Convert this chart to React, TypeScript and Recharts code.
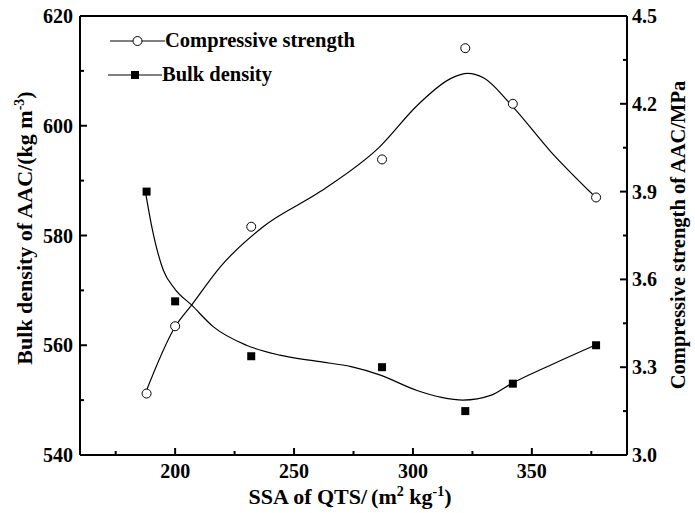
import { ComposedChart, Line, Scatter, XAxis, YAxis, ReferenceLine, Legend, Label } from "recharts";

// measured samples
const ssa = [188, 200, 232, 287, 322, 342, 377];
const bulkDensity = [588, 568, 558, 556, 548, 553, 560];
const compStrength = [3.21, 3.44, 3.78, 4.01, 4.39, 4.2, 3.88];

// smooth fitted curves
const densityFitX = [187.5, 190, 195, 200, 207, 216, 230, 244, 261, 274, 286, 302, 312, 321, 333, 341, 358, 376.5];
const densityFitY = [588, 582, 573.7, 570.2, 567.3, 563.4, 560, 558.2, 557, 556.1, 554.6, 551.7, 550.5, 550, 550.9, 552.9, 556.4, 560];
const strengthFitX = [187.5, 200, 207, 219, 237, 261, 286, 302, 316, 323, 330, 341, 358, 376.5];
const strengthFitY = [3.211, 3.438, 3.513, 3.643, 3.78, 3.9, 4.053, 4.196, 4.287, 4.304, 4.287, 4.199, 4.036, 3.883];

const xTicks = [175, 200, 225, 250, 275, 300, 325, 350, 375];
const leftTicks = [540, 550, 560, 570, 580, 590, 600, 610, 620];
const rightTicks = [3.0, 3.15, 3.3, 3.45, 3.6, 3.75, 3.9, 4.05, 4.2, 4.35, 4.5];

const FONT = '"Liberation Serif", "Times New Roman", serif';

const densityPts = ssa.map((x, i) => ({ x, y: bulkDensity[i] }));
const strengthPts = ssa.map((x, i) => ({ x, y: compStrength[i] }));
const densityFit = densityFitX.map((x, i) => ({ x, y: densityFitY[i] }));
const strengthFit = strengthFitX.map((x, i) => ({ x, y: strengthFitY[i] }));

const isWhole = (v: number, step: number) => Math.abs(v / step - Math.round(v / step)) < 1e-6;

function XTick({ x, y, payload }: any) {
  const major = isWhole(payload.value, 50);
  return (
    <g>
      <line x1={x} x2={x} y1={y} y2={y - (major ? 7 : 4)} stroke="#000" strokeWidth={2} />
      {major && (
        <text x={x} y={y + 22.5} textAnchor="middle" fontFamily={FONT} fontWeight="bold" fontSize={20} fill="#000">
          {payload.value}
        </text>
      )}
    </g>
  );
}

function LeftTick({ x, y, payload }: any) {
  const major = isWhole(payload.value, 20);
  return (
    <g>
      <line x1={x} x2={x + (major ? 7 : 4)} y1={y} y2={y} stroke="#000" strokeWidth={2} />
      {major && (
        <text x={x - 7} y={y + 7} textAnchor="end" fontFamily={FONT} fontWeight="bold" fontSize={20} fill="#000">
          {payload.value}
        </text>
      )}
    </g>
  );
}

function RightTick({ x, y, payload }: any) {
  const major = isWhole(payload.value, 0.3);
  return (
    <g>
      <line x1={x} x2={x - (major ? 7 : 4)} y1={y} y2={y} stroke="#000" strokeWidth={2} />
      {major && (
        <text x={x + 5} y={y + 7} textAnchor="start" fontFamily={FONT} fontWeight="bold" fontSize={20} fill="#000">
          {payload.value.toFixed(1)}
        </text>
      )}
    </g>
  );
}

const Square = ({ cx, cy }: any) => <rect x={cx - 4} y={cy - 4} width={8} height={8} fill="#000" />;
const OpenCircle = ({ cx, cy }: any) => <circle cx={cx} cy={cy} r={4.5} fill="#fff" stroke="#000" strokeWidth={1} />;

function ChartLegend() {
  return (
    <svg width={420} height={100} style={{ display: "block" }}>
      <line x1={110} x2={165} y1={41} y2={41} stroke="#000" strokeWidth={1} />
      <circle cx={137.5} cy={41} r={4.5} fill="#fff" stroke="#000" strokeWidth={1} />
      <text x={165} y={47} fontFamily={FONT} fontWeight="bold" fontSize={20.5} fill="#000">
        Compressive strength
      </text>
      <line x1={108} x2={162} y1={75} y2={75} stroke="#000" strokeWidth={1} />
      <rect x={131} y={71} width={8} height={8} fill="#000" />
      <text x={162} y={81} fontFamily={FONT} fontWeight="bold" fontSize={20.5} fill="#000">
        Bulk density
      </text>
    </svg>
  );
}

export default function App() {
  return (
    <div style={{ position: "absolute", left: 0, top: 0, width: 695, height: 513, background: "#fff" }}>
      <ComposedChart width={695} height={513} margin={{ top: 16, right: 20, bottom: 18, left: 20 }}>
        <XAxis
          type="number"
          dataKey="x"
          domain={[160, 390]}
          ticks={xTicks}
          interval={0}
          allowDataOverflow
          height={40}
          tickSize={0}
          tickMargin={0}
          tickLine={false}
          axisLine={{ stroke: "#000", strokeWidth: 2 }}
          tick={<XTick />}
        >
          <Label
            content={() => (
              <text x={350} y={504} textAnchor="middle" fontFamily={FONT} fontWeight="bold" fontSize={22} fill="#000">
                SSA of QTS/
                <tspan dx={4}>(m</tspan>
                <tspan dy={-8} fontSize={14}>2</tspan>
                <tspan dy={8}> kg</tspan>
                <tspan dy={-8} fontSize={14}>-1</tspan>
                <tspan dy={8}>)</tspan>
              </text>
            )}
          />
        </XAxis>
        <YAxis
          yAxisId="left"
          orientation="left"
          type="number"
          domain={[540, 620]}
          ticks={leftTicks}
          interval={0}
          width={60}
          tickSize={0}
          tickMargin={0}
          tickLine={false}
          axisLine={{ stroke: "#000", strokeWidth: 2 }}
          tick={<LeftTick />}
        >
          <Label
            content={() => (
              <text x={32} y={228} transform="rotate(-90, 32, 228)" textAnchor="middle" fontFamily={FONT} fontWeight="bold" fontSize={22} fill="#000">
                Bulk density of AAC/(kg m
                <tspan dy={-8} fontSize={14}>-3</tspan>
                <tspan dy={8}>)</tspan>
              </text>
            )}
          />
        </YAxis>
        <YAxis
          yAxisId="right"
          orientation="right"
          type="number"
          domain={[3.0, 4.5]}
          ticks={rightTicks}
          interval={0}
          width={48}
          tickSize={0}
          tickMargin={0}
          tickLine={false}
          axisLine={{ stroke: "#000", strokeWidth: 2 }}
          tick={<RightTick />}
        >
          <Label
            content={() => (
              <text x={685} y={235} transform="rotate(-90, 685, 235)" textAnchor="middle" fontFamily={FONT} fontWeight="bold" fontSize={20.5} fill="#000">
                Compressive strength of AAC/MPa
              </text>
            )}
          />
        </YAxis>
        <ReferenceLine yAxisId="left" y={620} stroke="#000" strokeWidth={2} />
        <Legend
          layout="horizontal"
          verticalAlign="middle"
          align="center"
          wrapperStyle={{ left: 0, top: 0, width: 420, height: 100 }}
          content={() => <ChartLegend />}
        />
        <Line
          yAxisId="left"
          data={densityFit}
          dataKey="y"
          type="monotone"
          stroke="#000"
          strokeWidth={1.2}
          dot={false}
          activeDot={false}
          isAnimationActive={false}
        />
        <Line
          yAxisId="right"
          data={strengthFit}
          dataKey="y"
          type="monotone"
          stroke="#000"
          strokeWidth={1.2}
          dot={false}
          activeDot={false}
          isAnimationActive={false}
        />
        <Scatter yAxisId="left" data={densityPts} dataKey="y" shape={<Square />} isAnimationActive={false} />
        <Scatter yAxisId="right" data={strengthPts} dataKey="y" shape={<OpenCircle />} isAnimationActive={false} />
      </ComposedChart>
    </div>
  );
}
